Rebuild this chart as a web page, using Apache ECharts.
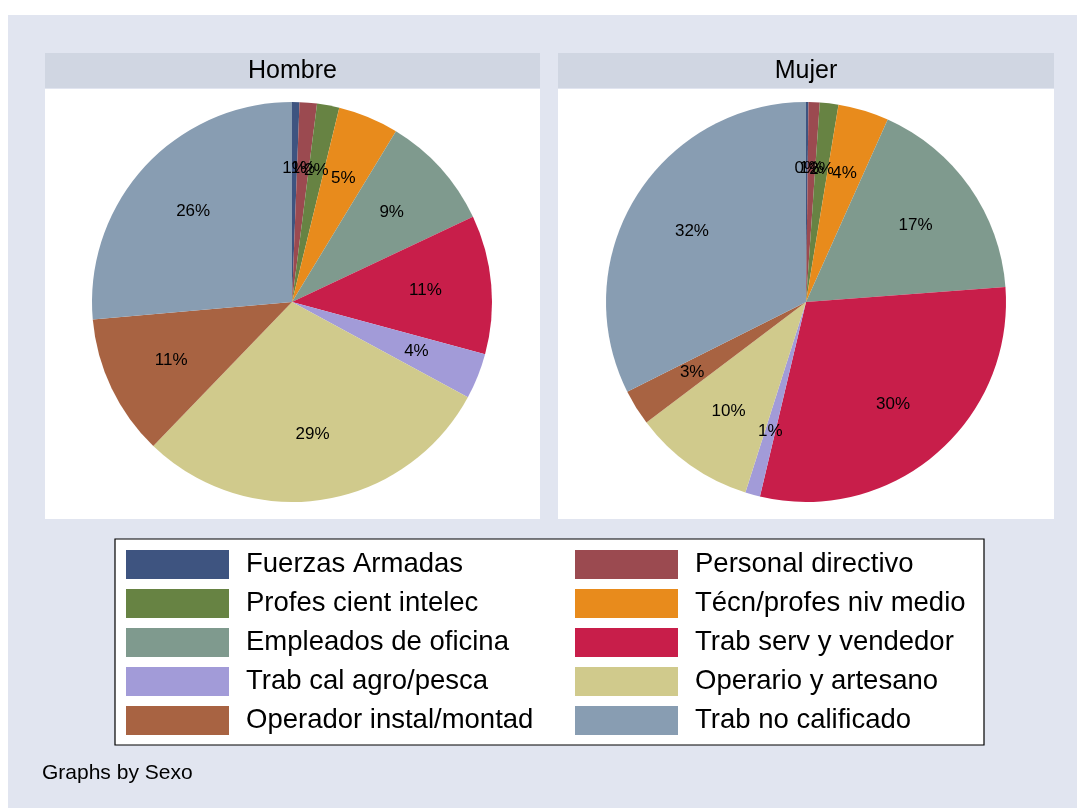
<!DOCTYPE html>
<html>
<head>
<meta charset="utf-8">
<script src="https://cdn.jsdelivr.net/npm/echarts@6/dist/echarts.min.js"></script>
<style>
  html, body { margin: 0; padding: 0; background: #fff; }
  #chart { width: 1077px; height: 808px; }
</style>
</head>
<body>
<div id="chart"></div>
<script>
// Occupation categories, in pie order (clockwise from 12 o'clock)
var categories = [
  'Fuerzas Armadas', 'Personal directivo', 'Profes cient intelec',
  'Técn/profes niv medio', 'Empleados de oficina', 'Trab serv y vendedor',
  'Trab cal agro/pesca', 'Operario y artesano', 'Operador instal/montad',
  'Trab no calificado'
];
// percent shares
var hombreValues = [0.6, 1.4, 1.8, 4.9, 9.3, 11.2, 3.7, 29.3, 11.4, 26.4];
var mujerValues = [0.2, 0.9, 1.5, 4.1, 17.1, 29.9, 1.2, 9.8, 2.9, 32.4];
var panelTitles = ['Hombre', 'Mujer'];
var colors = ['#3e5480', '#9b4a50', '#678343', '#e88b1c', '#7f9a8e',
  '#c81e4a', '#a29bd8', '#d0ca8c', '#a86342', '#889db2'];

var font = '"Liberation Sans", Arial, sans-serif';
var chart = echarts.init(document.getElementById('chart'), null, { renderer: 'canvas' });

function pieData(values) {
  return categories.map(function (name, i) {
    return { name: name, value: values[i] };
  });
}

var centers = [[292, 302], [806, 302]];
var allValues = [hombreValues, mujerValues];
var series = [];
allValues.forEach(function (vals, k) {
  series.push({
    type: 'pie',
    center: centers[k],
    radius: [0, 200],
    startAngle: 90,
    clockwise: true,
    silent: true,
    label: { show: false },
    labelLine: { show: false },
    itemStyle: { borderWidth: 0 },
    data: pieData(vals)
  });
  // transparent copy only to place labels at ~0.65 r
  series.push({
    type: 'pie',
    center: centers[k],
    radius: [62, 200],
    startAngle: 90,
    clockwise: true,
    silent: true,
    avoidLabelOverlap: false,
    minShowLabelAngle: 0,
    labelLayout: { hideOverlap: false },
    legendHoverLink: false,
    itemStyle: { color: 'rgba(0,0,0,0)' },
    label: {
      show: true,
      position: 'inside',
      color: '#000',
      fontSize: 17,
      fontFamily: font,
      formatter: function (p) { return Math.round(p.value) + '%'; }
    },
    labelLine: { show: false },
    data: pieData(vals).map(function (d) {
      return { name: d.name + ' ', value: d.value };
    })
  });
});

var panels = [[45, 540], [558, 1054]];
var graphics = [
  { type: 'rect', shape: { x: 8, y: 15, width: 1069, height: 793 }, style: { fill: '#e1e5f0' }, z: -10 }
];
panels.forEach(function (p, k) {
  graphics.push({ type: 'rect', shape: { x: p[0], y: 53, width: p[1] - p[0], height: 35 }, style: { fill: '#d0d6e2' }, z: -9 });
  graphics.push({ type: 'rect', shape: { x: p[0], y: 89, width: p[1] - p[0], height: 430 }, style: { fill: '#ffffff' }, z: -9 });
  graphics.push({
    type: 'text', x: (p[0] + p[1]) / 2, y: 71,
    style: { text: panelTitles[k], fill: '#000', font: '25px ' + font, textAlign: 'center', textVerticalAlign: 'middle' },
    z: -8
  });
});
graphics.push({ type: 'rect', shape: { x: 115, y: 539, width: 869, height: 206 }, style: { fill: '#fff', stroke: '#000', lineWidth: 1.2 }, z: -9 });
graphics.push({
  type: 'text', x: 42, y: 773,
  style: { text: 'Graphs by Sexo', fill: '#000', font: '21px ' + font, textVerticalAlign: 'middle' }
});

function legendCol(left, names) {
  return {
    orient: 'vertical',
    left: left,
    top: 550,
    padding: 0,
    itemWidth: 103,
    itemHeight: 29,
    itemGap: 10,
    icon: 'rect',
    selectedMode: false,
    data: names,
    textStyle: { fontSize: 27.5, fontFamily: font, color: '#000', padding: [3, 0, 0, 12] }
  };
}

chart.setOption({
  animation: false,
  color: colors,
  graphic: graphics,
  legend: [
    legendCol(126, categories.filter(function (c, i) { return i % 2 === 0; })),
    legendCol(575, categories.filter(function (c, i) { return i % 2 === 1; }))
  ],
  series: series
});
</script>
</body>
</html>
